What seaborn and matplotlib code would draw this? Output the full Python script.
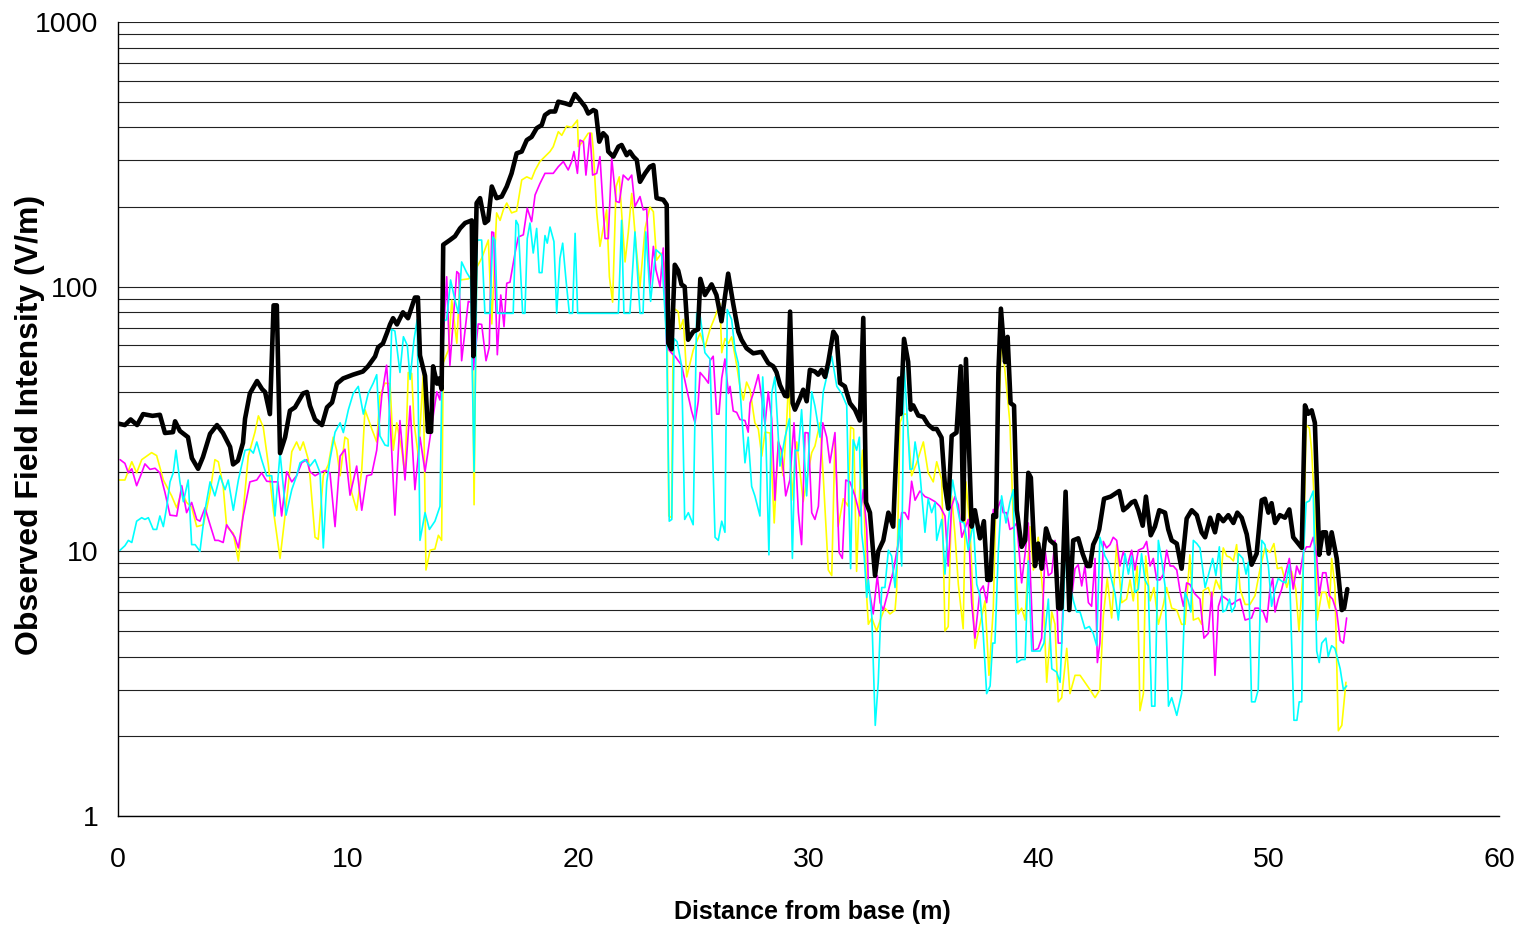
import matplotlib
matplotlib.use("Agg")
import matplotlib.pyplot as plt
import pandas as pd
import seaborn as sns
from matplotlib.ticker import LogLocator, NullFormatter

# Field intensity traces along the survey line: (distance from base in m, intensity in V/m)
total = [
    (0.00, 30.4), (0.30, 30), (0.55, 31.5), (0.83, 30), (1.09, 33), (1.50, 32.5), (1.82, 32.8), (2.04, 28),
    (2.39, 28.2), (2.48, 31), (2.69, 28.5), (3.04, 27), (3.21, 22.5), (3.48, 20.5), (3.69, 22.7), (4.00, 27.8),
    (4.30, 30), (4.56, 28), (4.87, 24.8), (5.00, 21.3), (5.21, 22), (5.43, 25.7), (5.52, 31.7), (5.73, 39.5),
    (6.04, 44), (6.26, 41), (6.39, 40), (6.60, 33), (6.76, 85), (6.90, 85), (7.04, 23.5), (7.26, 27),
    (7.47, 34), (7.69, 35), (8.04, 39.5), (8.21, 40), (8.34, 35.5), (8.56, 31.5), (8.86, 30), (9.08, 35),
    (9.30, 36.5), (9.51, 43), (9.78, 45), (10.21, 46.5), (10.64, 47.8), (10.86, 50), (11.17, 54.5), (11.30, 59),
    (11.51, 61), (11.69, 67), (11.82, 72), (11.95, 76), (12.12, 72), (12.38, 80), (12.60, 76), (12.90, 91),
    (13.03, 91), (13.12, 55), (13.34, 46), (13.47, 28.3), (13.60, 28.3), (13.69, 50), (13.86, 43), (13.95, 45),
    (14.06, 41), (14.13, 144), (14.28, 147), (14.42, 150), (14.64, 155), (14.86, 166), (15.08, 174), (15.37, 178),
    (15.44, 54.6), (15.58, 207), (15.73, 216), (15.94, 174), (16.08, 178), (16.24, 239), (16.45, 216), (16.67, 219),
    (16.89, 239), (17.10, 268), (17.32, 319), (17.54, 324), (17.76, 358), (17.97, 368), (18.19, 397), (18.41, 408),
    (18.55, 445), (18.77, 459), (18.99, 459), (19.13, 500), (19.42, 493), (19.64, 486), (19.85, 534), (20.07, 507),
    (20.29, 479), (20.43, 451), (20.65, 465), (20.76, 460), (20.91, 353), (21.08, 380), (21.23, 368), (21.30, 324),
    (21.52, 310), (21.74, 338), (21.88, 343), (22.10, 314), (22.24, 324), (22.39, 310), (22.54, 301), (22.68, 249),
    (22.90, 268), (23.11, 284), (23.26, 288), (23.40, 216), (23.69, 213), (23.84, 204), (23.91, 61), (24.05, 58),
    (24.19, 121), (24.34, 115), (24.48, 102), (24.62, 100), (24.77, 63), (24.99, 67.6), (25.20, 69), (25.30, 107),
    (25.50, 93), (25.79, 102), (26.00, 93), (26.22, 74), (26.51, 112), (26.73, 86), (26.95, 67.6), (27.09, 63),
    (27.31, 58.5), (27.60, 56), (27.96, 56.7), (28.25, 51.4), (28.47, 50), (28.61, 47.5), (28.76, 42.5), (28.98, 38.7),
    (29.08, 38.5), (29.20, 80.5), (29.31, 36.3), (29.41, 34.3), (29.63, 37.9), (29.77, 40.8), (29.92, 36.9), (30.06, 48.5),
    (30.28, 47.8), (30.42, 46.5), (30.57, 48.5), (30.72, 45.6), (30.86, 51.9), (31.08, 67.6), (31.22, 64.7), (31.37, 43.2),
    (31.58, 42), (31.80, 36.3), (32.02, 34.3), (32.23, 31.2), (32.38, 76.2), (32.50, 15.3), (32.67, 14), (32.89, 8.1),
    (33.03, 10), (33.25, 11), (33.47, 14), (33.68, 12.4), (33.94, 45), (34.00, 33), (34.15, 63.5), (34.33, 52),
    (34.44, 34.3), (34.55, 35.6), (34.77, 32.6), (34.99, 32.2), (35.20, 30.1), (35.42, 29), (35.57, 29), (35.78, 26.9),
    (35.93, 17.6), (36.07, 14.5), (36.22, 27.3), (36.43, 28.1), (36.61, 50), (36.72, 13.2), (36.84, 53.3), (37.09, 12.4),
    (37.23, 14.3), (37.45, 11.2), (37.62, 13), (37.77, 7.8), (37.91, 7.8), (38.03, 13.7), (38.15, 13.5), (38.25, 47.3),
    (38.36, 82.6), (38.54, 51.9), (38.65, 64.6), (38.78, 36.3), (38.93, 35.5), (39.05, 14.3), (39.26, 10.4), (39.41, 11),
    (39.55, 19.8), (39.66, 19), (39.84, 8.8), (39.98, 10.7), (40.13, 8.6), (40.32, 12.2), (40.49, 11), (40.71, 10.6),
    (40.85, 6.1), (40.99, 6.1), (41.17, 16.8), (41.33, 6), (41.50, 11), (41.72, 11.2), (41.91, 9.8), (42.11, 8.8),
    (42.23, 8.8), (42.37, 10.6), (42.52, 11.3), (42.63, 12.1), (42.84, 15.8), (43.13, 16.1), (43.32, 16.5), (43.50, 16.9),
    (43.68, 14.3), (43.85, 14.7), (44.04, 15.3), (44.18, 15.5), (44.33, 14.3), (44.52, 12.5), (44.66, 16.1), (44.87, 11.5),
    (45.05, 12.4), (45.24, 14.3), (45.49, 14), (45.63, 12.1), (45.78, 11), (46.00, 10.7), (46.21, 8.6), (46.43, 13.3),
    (46.65, 14.3), (46.87, 13.7), (47.08, 11.8), (47.23, 11.3), (47.45, 13.4), (47.66, 11.8), (47.81, 13.7), (48.02, 13),
    (48.24, 13.7), (48.46, 12.8), (48.63, 14), (48.82, 13.4), (49.04, 11.6), (49.25, 8.9), (49.47, 9.8), (49.69, 15.6),
    (49.83, 15.8), (49.98, 14), (50.12, 15.2), (50.27, 12.8), (50.48, 13.7), (50.70, 13.4), (50.89, 14.4), (51.06, 11.3),
    (51.28, 10.7), (51.43, 10.3), (51.57, 35.6), (51.71, 33.1), (51.86, 34.1), (52.00, 30.6), (52.19, 9.7), (52.34, 11.8),
    (52.48, 11.8), (52.60, 9.8), (52.73, 11.8), (52.95, 9.4), (53.17, 6), (53.27, 6.1), (53.41, 7.2),
]

comp_yellow = [
    (0.01, 18.6), (0.30, 18.6), (0.60, 21.8), (0.81, 19.8), (1.03, 22.2), (1.25, 22.9), (1.46, 23.6), (1.68, 23.0),
    (1.97, 18.6), (2.33, 16.2), (2.55, 14.6), (2.77, 16.9), (2.98, 15.3), (3.20, 14.7), (3.42, 12.4), (3.71, 12.6),
    (4.00, 16.7), (4.21, 22.2), (4.36, 21.8), (4.57, 17.6), (4.72, 12.4), (5.01, 11.7), (5.23, 9.2), (5.44, 14.2),
    (5.66, 22.9), (5.95, 28.2), (6.10, 32.5), (6.31, 29.5), (6.53, 21.3), (6.75, 14.3), (7.04, 9.4), (7.26, 13.7),
    (7.55, 23.8), (7.76, 25.9), (7.91, 24.1), (8.05, 25.9), (8.27, 22.2), (8.34, 19.3), (8.56, 11.3), (8.70, 11.1),
    (8.92, 19.3), (9.14, 21.3), (9.35, 27.0), (9.50, 24.1), (9.65, 19.3), (9.86, 27.0), (9.99, 26.5), (10.15, 16.7),
    (10.37, 14.3), (10.59, 20.3), (10.73, 34.3), (11.02, 29.1), (11.24, 25.9), (11.38, 38.7), (11.60, 43.2), (11.82, 43.0),
    (11.96, 24.1), (12.11, 30.6), (12.33, 24.1), (12.47, 19.3), (12.61, 47.4), (12.76, 47.0), (12.86, 30.6), (13.05, 22.9),
    (13.26, 46.5), (13.38, 8.5), (13.56, 10.1), (13.77, 10.2), (13.92, 11.5), (14.06, 11.0), (14.13, 51.6), (14.35, 57.5),
    (14.50, 89), (14.72, 61.1), (14.86, 106), (15.22, 107), (15.37, 110), (15.47, 15), (15.58, 118), (15.80, 128),
    (16.09, 150), (16.24, 72.3), (16.45, 190), (16.60, 178), (16.74, 195), (16.89, 207), (17.10, 190), (17.32, 193),
    (17.54, 253), (17.76, 260), (17.97, 255), (18.12, 275), (18.33, 297), (18.55, 310), (18.77, 324), (18.91, 338),
    (19.13, 385), (19.28, 373), (19.49, 404), (19.71, 400), (19.86, 415), (19.96, 426), (20.00, 338), (20.19, 353),
    (20.43, 380), (20.58, 380), (20.65, 328), (20.80, 190), (20.94, 142), (21.08, 166), (21.23, 195), (21.35, 109),
    (21.49, 87.4), (21.64, 239), (21.78, 260), (21.93, 164), (22.03, 124), (22.17, 160), (22.32, 225), (22.51, 142),
    (22.68, 100), (22.90, 166), (23.11, 200), (23.26, 192), (23.40, 126), (23.62, 134), (23.84, 112), (23.93, 13.6),
    (24.05, 13.4), (24.13, 83), (24.34, 80.5), (24.42, 69), (24.56, 75.2), (24.71, 45.6), (24.99, 57.5), (25.29, 66.7),
    (25.50, 59), (25.72, 69), (25.94, 77), (26.15, 86.5), (26.23, 56.3), (26.37, 63.7), (26.52, 61), (26.66, 64.6),
    (26.88, 50.5), (27.02, 42), (27.17, 37.3), (27.31, 43.6), (27.46, 40.8), (27.67, 30.6), (27.82, 29), (27.97, 22.9),
    (28.11, 28.2), (28.33, 28), (28.51, 12.8), (28.69, 26.2), (28.90, 19.3), (29.05, 30.6), (29.15, 47.3), (29.27, 15.6),
    (29.49, 25.9), (29.77, 15.4), (29.92, 18.5), (30.14, 23.6), (30.28, 25), (30.50, 30.6), (30.64, 19.3), (30.86, 8.5),
    (31.01, 8.1), (31.15, 27), (31.29, 12.4), (31.51, 15.8), (31.73, 14.8), (31.83, 29.5), (31.96, 29), (32.09, 8.4),
    (32.24, 18.3), (32.35, 24.1), (32.53, 6.7), (32.60, 5.3), (32.75, 5.6), (32.96, 5.0), (33.18, 5.7), (33.32, 6.1),
    (33.54, 5.8), (33.76, 6.0), (33.83, 7.1), (33.97, 30.6), (34.12, 33), (34.27, 33), (34.48, 19.3), (34.70, 21.6),
    (34.99, 25.9), (35.20, 19.8), (35.42, 18.3), (35.57, 21.8), (35.79, 18.6), (35.93, 5.0), (36.07, 5.2), (36.22, 16.2),
    (36.36, 11.7), (36.51, 7.5), (36.72, 5.1), (36.84, 18.3), (37.02, 12.1), (37.23, 4.3), (37.45, 5.3), (37.67, 6.5),
    (37.84, 3.4), (38.03, 6.1), (38.18, 21.6), (38.39, 63.6), (38.54, 47.7), (38.75, 30.6), (38.90, 12.8), (39.11, 5.8),
    (39.26, 6.1), (39.41, 5.5), (39.62, 12.4), (39.77, 8.5), (39.98, 11.3), (40.20, 6.6), (40.35, 3.2), (40.57, 5.9),
    (40.71, 5.3), (40.85, 2.7), (41.00, 2.8), (41.22, 4.3), (41.36, 2.9), (41.58, 3.4), (41.80, 3.4), (42.01, 3.2),
    (42.23, 3.0), (42.45, 2.8), (42.66, 3.0), (42.81, 5.7), (42.98, 7.9), (43.17, 5.6), (43.39, 10.6), (43.61, 6.4),
    (43.82, 6.6), (43.97, 7.8), (44.11, 6.5), (44.28, 8.8), (44.40, 2.5), (44.55, 2.9), (44.65, 9.6), (44.84, 6.5),
    (45.01, 7.3), (45.20, 5.3), (45.42, 6.3), (45.56, 7.3), (45.78, 6.1), (46.00, 6.0), (46.21, 5.3), (46.36, 5.3),
    (46.57, 9.7), (46.72, 5.5), (46.94, 5.6), (47.08, 5.3), (47.15, 7.1), (47.37, 7.3), (47.52, 6.6), (47.70, 7.8),
    (47.88, 7.2), (48.02, 10.3), (48.17, 9.6), (48.31, 9.5), (48.46, 9.2), (48.60, 10.6), (48.75, 7.2), (48.97, 6.3),
    (49.18, 6.3), (49.40, 6.8), (49.62, 8.6), (49.83, 10.3), (50.05, 9.9), (50.22, 10.7), (50.37, 8.6), (50.56, 8.7),
    (50.78, 7.3), (50.99, 8.4), (51.17, 7.2), (51.31, 5.0), (51.50, 8.8), (51.62, 30), (51.76, 29.2), (51.86, 24.1),
    (52.00, 14), (52.10, 5.5), (52.30, 7.0), (52.48, 7.0), (52.63, 6.1), (52.73, 9.4), (52.87, 7.4), (53.02, 2.1),
    (53.17, 2.2), (53.35, 3.2),
]

comp_magenta = [
    (0.09, 22.2), (0.30, 21.5), (0.45, 19.8), (0.60, 20.5), (0.81, 17.7), (1.03, 19.8), (1.17, 21.4), (1.39, 20.4),
    (1.61, 20.6), (1.82, 19.8), (2.04, 16.7), (2.26, 13.7), (2.55, 13.6), (2.77, 17.7), (2.98, 14), (3.20, 15.3),
    (3.42, 13.2), (3.56, 13), (3.78, 14.6), (4.00, 12.6), (4.21, 11), (4.36, 11), (4.57, 10.8), (4.72, 12.6),
    (5.08, 11.3), (5.23, 10.3), (5.44, 13.6), (5.73, 18.3), (6.03, 18.6), (6.24, 19.8), (6.46, 18.4), (6.75, 18.3),
    (6.95, 18.3), (7.11, 13.6), (7.33, 20), (7.55, 18.3), (7.76, 19.3), (7.98, 21.6), (8.20, 22.2), (8.34, 20),
    (8.56, 19.3), (8.78, 19.8), (8.99, 20.2), (9.21, 19.8), (9.43, 12.4), (9.65, 22.9), (9.86, 24.3), (10.08, 16.3),
    (10.37, 21), (10.59, 14.3), (10.81, 19.3), (11.02, 19.5), (11.24, 24.1), (11.46, 38.7), (11.67, 50.5), (11.82, 31.7),
    (12.03, 13.7), (12.25, 31.2), (12.47, 18.6), (12.69, 35.4), (12.90, 17.1), (13.12, 27), (13.34, 20), (13.59, 28.1),
    (13.85, 40.1), (13.99, 37.3), (14.28, 109), (14.42, 50.4), (14.72, 114), (14.81, 112), (14.93, 52.5), (15.22, 88),
    (15.37, 87), (15.44, 48.6), (15.65, 72.3), (15.80, 72), (15.99, 52.5), (16.13, 59), (16.24, 161), (16.32, 160),
    (16.48, 55.3), (16.63, 93), (16.77, 70.6), (16.89, 103), (17.03, 104), (17.25, 134), (17.39, 154), (17.61, 157),
    (17.78, 198), (17.97, 176), (18.12, 222), (18.33, 245), (18.55, 268), (18.91, 268), (19.13, 284), (19.35, 297),
    (19.56, 276), (19.71, 297), (19.81, 324), (19.96, 268), (20.07, 358), (20.22, 353), (20.33, 264), (20.51, 380),
    (20.62, 264), (20.80, 268), (20.94, 310), (21.16, 152), (21.30, 152), (21.45, 306), (21.64, 210), (21.78, 208),
    (21.95, 264), (22.17, 253), (22.32, 264), (22.46, 201), (22.68, 219), (22.82, 195), (22.97, 197), (23.11, 100),
    (23.26, 142), (23.37, 116), (23.55, 100), (23.69, 140), (23.84, 59), (24.06, 56), (24.20, 54.6), (24.49, 50.4),
    (24.71, 41), (24.92, 33.9), (25.07, 30.6), (25.21, 36.9), (25.29, 47.4), (25.50, 45.1), (25.65, 43.2), (25.72, 52.5),
    (25.86, 54.6), (26.01, 33), (26.11, 33), (26.23, 45.1), (26.37, 53.3), (26.52, 39.5), (26.59, 42), (26.73, 33.9),
    (26.88, 33.5), (27.02, 31.5), (27.24, 31.2), (27.38, 28.2), (27.46, 36.3), (27.60, 39.5), (27.82, 46.5), (27.97, 37.9),
    (28.11, 30.1), (28.25, 40.1), (28.40, 31.7), (28.54, 15.6), (28.69, 25.9), (28.83, 24.1), (29.01, 16.2), (29.19, 18.6),
    (29.37, 30.6), (29.56, 14), (29.70, 10.6), (29.85, 28.1), (29.99, 28), (30.14, 14), (30.28, 13.2), (30.43, 14.8),
    (30.62, 30.6), (30.79, 27), (30.93, 21.6), (31.15, 28.1), (31.33, 9.9), (31.47, 9.4), (31.62, 18.6), (31.80, 18.3),
    (32.02, 16.2), (32.24, 13.6), (32.38, 17.1), (32.53, 12.1), (32.60, 7.5), (32.81, 5.8), (32.99, 8.1), (33.11, 6.4),
    (33.25, 6), (33.47, 7.1), (33.68, 8.4), (33.90, 10.7), (34.05, 14), (34.19, 14), (34.34, 13.2), (34.48, 18.4),
    (34.63, 15.6), (34.84, 16.9), (35.06, 16.1), (35.28, 15.8), (35.50, 15.4), (35.71, 14.8), (35.93, 13.6), (36.07, 8.8),
    (36.22, 14.8), (36.36, 16.1), (36.51, 15), (36.66, 11.3), (36.94, 13.2), (37.09, 6.4), (37.23, 4.7), (37.45, 7.1),
    (37.59, 7.4), (37.74, 6.4), (37.89, 8.6), (38.03, 14.4), (38.18, 14.2), (38.35, 15.6), (38.46, 14), (38.61, 14),
    (38.75, 12.1), (38.90, 12.3), (39.05, 12.8), (39.26, 7.6), (39.41, 9.8), (39.55, 12.8), (39.77, 4.2), (39.98, 4.3),
    (40.13, 4.7), (40.28, 10.1), (40.42, 8.1), (40.57, 8.3), (40.71, 11), (40.85, 4.5), (41.00, 4.5), (41.15, 11.5),
    (41.29, 9.1), (41.44, 6.8), (41.58, 8.6), (41.72, 8.9), (41.87, 7.4), (42.01, 8.8), (42.16, 6.4), (42.30, 6.2),
    (42.45, 9.4), (42.55, 3.8), (42.66, 4.5), (42.81, 10.9), (42.95, 10.3), (43.10, 10.6), (43.24, 11.3), (43.39, 11),
    (43.53, 8.8), (43.68, 10), (43.85, 8.8), (44.04, 10.1), (44.18, 8.5), (44.33, 10.1), (44.55, 10.3), (44.69, 10.9),
    (44.84, 8.8), (44.98, 9.4), (45.13, 7.8), (45.27, 7.8), (45.42, 8.2), (45.56, 10.1), (45.71, 8.8), (45.85, 8.8),
    (46.00, 8.5), (46.14, 7.1), (46.29, 6.2), (46.43, 7.6), (46.57, 7.5), (46.79, 6.9), (47.01, 6.6), (47.18, 4.7),
    (47.37, 4.9), (47.52, 7.0), (47.66, 3.4), (47.81, 6.2), (47.95, 6.8), (48.17, 6.6), (48.39, 6.3), (48.60, 6.5),
    (48.75, 6.6), (48.97, 5.5), (49.25, 5.6), (49.40, 6.1), (49.54, 6.1), (49.76, 5.9), (49.91, 5.4), (50.05, 7.2),
    (50.17, 7.9), (50.27, 5.9), (50.41, 6.6), (50.56, 7.2), (50.70, 8.1), (50.89, 9.4), (51.06, 7.2), (51.21, 8.8),
    (51.35, 8.2), (51.50, 9.9), (51.64, 10.4), (51.79, 10.4), (51.93, 11.3), (52.08, 9.6), (52.19, 6.8), (52.34, 8.3),
    (52.48, 8.3), (52.63, 6.8), (52.77, 6.6), (52.95, 5.9), (53.10, 4.6), (53.24, 4.5), (53.38, 5.6),
]

comp_cyan = [
    (0.09, 10.1), (0.30, 10.5), (0.45, 11), (0.60, 10.8), (0.81, 13), (1.03, 13.4), (1.17, 13.2), (1.32, 13.4),
    (1.53, 12.1), (1.68, 12.1), (1.82, 13.6), (1.97, 12.4), (2.12, 14.8), (2.26, 18.3), (2.40, 19.8), (2.52, 24.1),
    (2.69, 18.3), (2.84, 15.4), (3.05, 18.6), (3.20, 10.6), (3.35, 10.6), (3.56, 10), (3.78, 14.3), (4.00, 18.3),
    (4.21, 16.2), (4.43, 19.3), (4.65, 17.1), (4.79, 18.6), (5.01, 14.3), (5.23, 18.6), (5.52, 24.1), (5.73, 24.3),
    (5.88, 23.5), (6.03, 25.9), (6.24, 22.2), (6.46, 19.3), (6.68, 19.3), (6.82, 13.6), (7.04, 23.6), (7.30, 13.7),
    (7.55, 17.1), (7.76, 19.3), (7.91, 21.6), (8.12, 22.2), (8.34, 21), (8.56, 22.2), (8.78, 19.8), (8.92, 10.3),
    (9.07, 18.3), (9.21, 22.2), (9.43, 28.2), (9.65, 30.6), (9.79, 28.1), (10.01, 34.3), (10.22, 39.5), (10.44, 42),
    (10.66, 33), (10.87, 39.5), (11.09, 43.2), (11.24, 46.5), (11.38, 27.3), (11.60, 25.2), (11.74, 25), (11.89, 69),
    (12.03, 68), (12.25, 47.4), (12.40, 64.7), (12.57, 60), (12.69, 44.6), (12.86, 63), (13.00, 75.2), (13.12, 11),
    (13.34, 14), (13.53, 12.1), (13.77, 13), (13.99, 14.8), (14.11, 74), (14.28, 75), (14.45, 106), (14.64, 89),
    (14.79, 79.3), (14.93, 124), (15.15, 113), (15.32, 107), (15.47, 20), (15.61, 150), (15.80, 150), (15.94, 79.3),
    (16.16, 79.3), (16.28, 154), (16.38, 150), (16.48, 79.3), (17.17, 79.3), (17.29, 178), (17.39, 171), (17.58, 79.3),
    (17.68, 79.3), (17.78, 152), (17.90, 174), (18.04, 134), (18.19, 166), (18.30, 113), (18.42, 113), (18.55, 156),
    (18.65, 146), (18.77, 168), (18.94, 148), (19.06, 79.3), (19.20, 128), (19.32, 146), (19.46, 107), (19.61, 79.3),
    (19.75, 79.3), (19.86, 159), (19.97, 79.3), (21.74, 79.3), (21.88, 178), (21.98, 79.3), (22.24, 79.3), (22.46, 161),
    (22.68, 79.3), (22.81, 79.3), (22.93, 161), (23.14, 88), (23.37, 138), (23.62, 132), (23.84, 61), (23.95, 13),
    (24.06, 13.2), (24.16, 63.6), (24.29, 62), (24.49, 50), (24.62, 13.2), (24.78, 14), (24.99, 12.6), (25.14, 79.3),
    (25.29, 78), (25.50, 56.3), (25.72, 53.3), (25.94, 11.3), (26.08, 11), (26.23, 13), (26.37, 11.8), (26.47, 82),
    (26.66, 75.2), (26.81, 57.5), (26.95, 51.4), (27.10, 33), (27.24, 21.6), (27.38, 27), (27.53, 17.6), (27.67, 16.2),
    (27.89, 13.6), (28.01, 45.6), (28.15, 26.4), (28.28, 9.7), (28.40, 39.5), (28.54, 45.6), (28.76, 21), (28.98, 27),
    (29.17, 31.7), (29.30, 9.4), (29.41, 24.1), (29.56, 24), (29.70, 34.3), (29.92, 16.2), (30.14, 40.1), (30.28, 35.4),
    (30.50, 27), (30.64, 40), (30.79, 45.6), (31.01, 54.6), (31.23, 42), (31.44, 39.5), (31.66, 35.6), (31.76, 14.5),
    (31.83, 8.6), (31.94, 26.4), (32.09, 24.1), (32.21, 27), (32.31, 11.7), (32.42, 9.6), (32.53, 6.7), (32.60, 7.8),
    (32.75, 5.7), (32.90, 2.2), (33.03, 3.2), (33.18, 7.3), (33.32, 7.3), (33.47, 10.1), (33.61, 9.6), (33.76, 7.3),
    (33.83, 8.8), (33.94, 13.2), (34.05, 8.8), (34.15, 51.6), (34.27, 34.3), (34.41, 20.4), (34.52, 20.5), (34.63, 25.9),
    (34.84, 19.8), (35.06, 11.8), (35.20, 15.8), (35.35, 14), (35.50, 15.3), (35.57, 11), (35.79, 13.2), (35.93, 8.2),
    (36.07, 12.8), (36.26, 18.6), (36.46, 14.8), (36.58, 13), (36.76, 12.8), (36.94, 10.1), (37.16, 12.8), (37.31, 7.5),
    (37.45, 6.8), (37.59, 4.9), (37.74, 2.9), (37.89, 3.1), (38.00, 4.5), (38.10, 4.5), (38.25, 10.1), (38.39, 16.2),
    (38.58, 12.8), (38.75, 15.3), (38.90, 17.1), (39.05, 3.8), (39.26, 3.9), (39.41, 3.9), (39.55, 9.2), (39.70, 4.2),
    (39.88, 4.2), (40.06, 4.2), (40.23, 4.5), (40.42, 6.6), (40.57, 3.6), (40.78, 3.5), (40.93, 3.2), (41.07, 6),
    (41.22, 14.5), (41.36, 7.5), (41.51, 6.5), (41.65, 5.9), (41.80, 5.9), (42.01, 5.1), (42.20, 5.2), (42.37, 4.9),
    (42.52, 4.4), (42.66, 11.3), (42.88, 9.6), (43.03, 9.1), (43.17, 7.8), (43.32, 6.9), (43.46, 5.5), (43.61, 7.4),
    (43.75, 9.8), (43.90, 8.2), (44.04, 9.6), (44.18, 7), (44.33, 7.2), (44.47, 9.8), (44.62, 7.8), (44.76, 7.4),
    (44.91, 2.6), (45.05, 2.6), (45.20, 11), (45.35, 9.2), (45.49, 7.4), (45.64, 2.6), (45.78, 2.8), (46.00, 2.4),
    (46.21, 2.9), (46.36, 7), (46.50, 6.5), (46.61, 5.9), (46.72, 11), (46.87, 10.7), (47.01, 10.3), (47.23, 7.3),
    (47.37, 8.1), (47.56, 9.4), (47.70, 8.1), (47.85, 10.4), (48.00, 5.9), (48.14, 6), (48.29, 6.6), (48.39, 5.9),
    (48.53, 6.2), (48.68, 9.8), (48.87, 9.4), (49.01, 8.2), (49.11, 9.1), (49.25, 2.7), (49.40, 2.7), (49.54, 3),
    (49.69, 11), (49.83, 10.6), (49.98, 8.8), (50.12, 6.2), (50.27, 7.2), (50.41, 7.9), (50.57, 7.7), (50.74, 7.6),
    (50.89, 8.9), (51.09, 2.3), (51.22, 2.3), (51.32, 2.7), (51.43, 2.7), (51.50, 9.6), (51.62, 15.3), (51.76, 15.5),
    (51.93, 16.9), (52.08, 4.2), (52.19, 3.8), (52.30, 4.5), (52.48, 4.7), (52.58, 4.0), (52.73, 4.4), (52.87, 4.3),
    (53.10, 3.6), (53.24, 3), (53.38, 3.1),
]

y_ticks = [1, 10, 100, 1000]
y_tick_labels = ["1", "10", "100", "1000"]
x_ticks = [0, 10, 20, 30, 40, 50, 60]

sns.set_style("white")
plt.rcParams["font.family"] = ["Liberation Sans", "DejaVu Sans"]

fig = plt.figure(figsize=(15.26, 9.33), dpi=100)
ax = fig.add_axes([118 / 1526, 1 - 816 / 933, 1381 / 1526, 794 / 933])
ax.set_yscale("log")

traces = [
    (comp_yellow, "#FFFF00", 1.2),
    (comp_magenta, "#FF00FF", 1.2),
    (comp_cyan, "#00FFFF", 1.2),
    (total, "#000000", 3.3),
]
for pts, color, lw in traces:
    df = pd.DataFrame(pts, columns=["distance", "field"])
    sns.lineplot(data=df, x="distance", y="field", color=color, linewidth=lw,
                 estimator=None, sort=False, ax=ax, legend=False)

ax.set_xlim(0, 60)
ax.set_ylim(1, 1000)
ax.set_xticks(x_ticks)
ax.set_xticklabels([str(t) for t in x_ticks])
ax.set_yticks(y_ticks)
ax.set_yticklabels(y_tick_labels)
ax.yaxis.set_minor_locator(LogLocator(base=10, subs=range(2, 10)))
ax.yaxis.set_minor_formatter(NullFormatter())

ax.grid(False)
ax.yaxis.grid(True, which="both", color="#222222", linewidth=0.8)
ax.set_axisbelow(True)

ax.tick_params(axis="y", which="minor", length=0)
ax.tick_params(axis="both", which="major", length=7, width=1, color="black",
               direction="out", labelsize=20.5, labelcolor="black")
ax.tick_params(axis="x", which="major", pad=15)
ax.tick_params(axis="y", which="major", pad=7)

for side in ["top", "right"]:
    ax.spines[side].set_visible(False)
for side in ["left", "bottom"]:
    ax.spines[side].set_color("black")
    ax.spines[side].set_linewidth(1.0)

ax.set_xlabel("Distance from base (m)", fontsize=18, fontweight="bold", color="black")
ax.xaxis.label.set_va("center")
ax.xaxis.set_label_coords(0.5025, -0.121)
ax.set_ylabel("Observed Field Intensity (V/m)", fontsize=23, fontweight="bold", color="black")
ax.yaxis.label.set_va("center")
ax.yaxis.set_label_coords(-0.0637, 0.4924)

fig.savefig("out.png", dpi=100)
